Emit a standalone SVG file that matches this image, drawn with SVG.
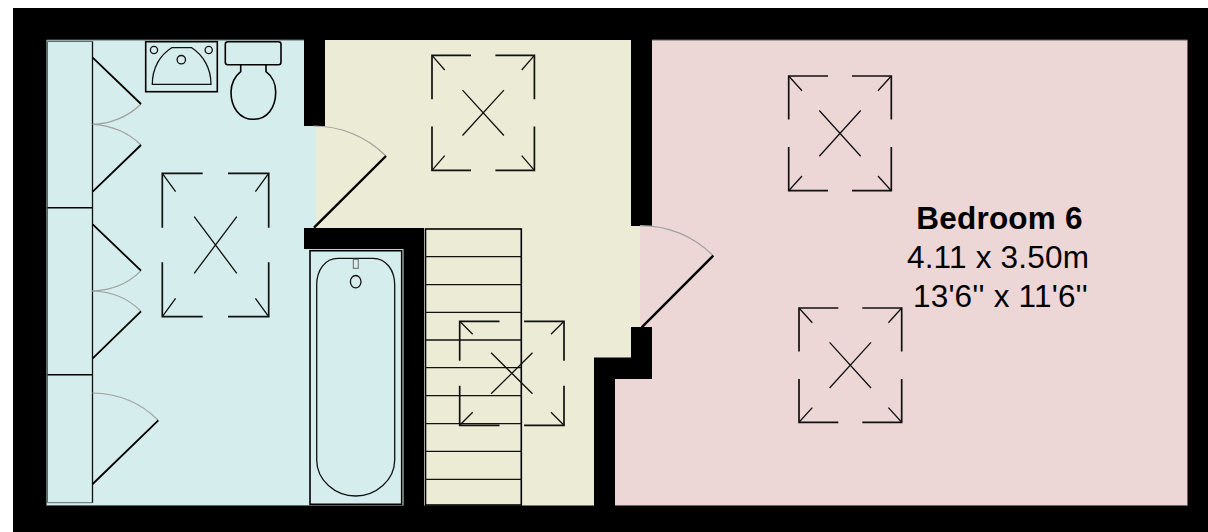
<svg xmlns="http://www.w3.org/2000/svg" width="1208" height="532" viewBox="0 0 1208 532">
<defs><style>
.fix{fill:none;stroke:#111;stroke-width:1.3}
.thick{fill:none;stroke:#000;stroke-width:1.6}
.arc{fill:none;stroke:#a0a0a0;stroke-width:1.2}
.leaf{fill:none;stroke:#000;stroke-width:2.4}
.leaf2{fill:none;stroke:#000;stroke-width:1.8}
.sky{fill:none;stroke:#111;stroke-width:1.7}
.wall{fill:#000;stroke:none}
.edge{fill:none;stroke:#5a6a6a;stroke-width:1}
text{font-family:"Liberation Sans",Arial,sans-serif;font-size:31.5px;letter-spacing:.2px;fill:#000;text-anchor:middle}
</style></defs>
<rect width="1208" height="532" fill="#fff"/>
<rect class="wall" x="13" y="8" width="1195" height="524"/>
<g id="room-bathroom"><path d="M46.500 40H304V126H316V228H304V249H404V505.500H46.500Z" fill="#d5edec"/><path class="edge" d="M304 40H46.500V505.500H404"/></g>
<g id="room-landing"><path d="M325 40H631V226H640V327H631V357.500H594V505.500H424V228H316V126H325Z" fill="#ecebd5"/></g>
<g id="room-bedroom"><path d="M652 40H1187.500V505.500H615V379H652V327H640V226H652Z" fill="#ecd6d6"/><path class="edge" stroke="#5a5050" d="M652 40H1187.500V505.500H615"/></g>
<g id="walls">
<path class="wall" d="M304 40H325V126H304Z"/>
<path class="wall" d="M304 228H424V506H403.500V249H304Z"/>
<path class="wall" d="M631 40H652V226H631Z"/>
<path class="wall" d="M631 327H652V379H615V506H594V358H631Z"/>
</g>
<g id="wardrobes">
<path class="edge" d="M92.500 41.500H47.500V502.700H92.500"/>
<path class="fix" d="M92.500 41.500V502.700"/>
<path class="thick" d="M47.500 207.700H92.500M47.500 374.700H92.500"/>
</g>
<g id="connectors">
<path class="arc" d="M92.700 124.300C110 124 128 117 141 104"/>
<path class="arc" d="M92.700 124.300C110 125 128 132 141 145"/>
<path class="arc" d="M92.300 291C110 290.500 128 284 141 270.700"/>
<path class="arc" d="M92.300 291C110 291.500 128 298 141 311.300"/>
<path class="arc" d="M92.300 393C118 393.500 141 403 158.300 420.300"/>
<path class="arc" d="M313.300 126C340 126 366 136 386 156"/>
<path class="arc" d="M640 225.700C667 225.700 693 236 713.300 255.700"/>
<path class="leaf2" d="M92.700 57.700L141 104M141 145L92.700 191.700M92.700 224.300L141 270.700M141 311.300L92.700 358.300M158.300 420.300L92.700 484"/>
<path class="leaf" d="M386 156L314 227.700M713.300 255.700L641.700 327.300"/>
</g>
<g id="basin">
<rect class="thick" x="145.700" y="41.700" width="71.600" height="50"/>
<path class="fix" d="M152.300 84.300C152.300 68 160 55 171.700 47.700H191.700C203 55 211 68 211 84.300Z"/>
<circle class="fix" cx="154" cy="50" r="3.600"/><circle class="fix" cx="208.700" cy="50" r="3.600"/><circle class="fix" cx="181.300" cy="59.700" r="4.200"/>
</g>
<g id="toilet">
<rect class="thick" x="225.300" y="41.700" width="55.700" height="23" rx="2.500"/>
<path class="thick" d="M240.700 64.700V71.700C235 76 231 84 231 92C231 108 240 119.300 253.300 119.300C267 119.300 275.700 108 275.700 92C275.700 84 272 76 266 71.700V64.700"/>
</g>
<g id="bath">
<rect class="thick" x="310" y="250.700" width="91.700" height="253.600"/>
<path class="fix" d="M316.700 285C316.700 270 325 258.300 338 258.300H373C386 258.300 394.700 270 394.700 285V460C394.700 480 376 496 355.700 496C335 496 316.700 480 316.700 460Z"/>
<ellipse class="fix" cx="355.700" cy="281.700" rx="5.300" ry="6.200"/>
<rect x="353.300" y="259.300" width="5" height="9" fill="none" stroke="#666" stroke-width="1"/>
</g>
<g id="stairs">
<rect class="thick" x="425.500" y="229" width="95.800" height="276"/>
<path class="fix" d="M425.500 256.700H521.300M425.500 284.700H521.300M425.500 312.300H521.300M425.500 340H521.300M425.500 367.700H521.300M425.500 395.700H521.300M425.500 423.700H521.300M425.500 451.300H521.300M425.500 479.300H521.300"/>
</g>
<g id="skylight-bathroom"><path class="sky" d="M202.700 173.300H162.300V227.700M228 173.300H268.700V227.700M202.700 316.700H162.300V262.300M228 316.700H268.700V262.300"/><path class="fix" d="M162.300 173.300L175.600 191.600M268.700 173.300L255.400 191.600M162.300 316.700L175.600 298.400M268.700 316.700L255.400 298.400M194.200 216.700L236.800 273.300M236.800 216.700L194.200 273.300"/></g>
<g id="skylight-landing"><path class="sky" d="M471 55.300H432V99.300M495.400 55.300H534.400V99.300M471 170.300H432V126.500M495.400 170.300H534.400V126.500"/><path class="fix" d="M432 55.300L444.700 70M534.400 55.300L521.700 70M432 170.300L444.700 155.600M534.400 170.300L521.700 155.600M462.500 90.100L503.900 135.500M503.900 90.100L462.500 135.500"/></g>
<g id="skylight-stairs"><path class="sky" d="M499.500 321.300H459.700V360.800M524.100 321.300H564V360.800M499.500 425.300H459.700V385.800M524.100 425.300H564V385.800"/><path class="fix" d="M459.700 321.300L472.700 334.300M564 321.300L551 334.300M459.700 425.300L472.700 412.300M564 425.300L551 412.300M491.100 352.800L532.500 393.800M532.500 352.800L491.100 393.800"/></g>
<g id="skylight-bedroom-1"><path class="sky" d="M828 76H788.700V119.500M852 76H891.300V119.500M828 190.700H788.700V147.100M852 190.700H891.300V147.100"/><path class="fix" d="M788.700 76L802 90.700M891.300 76L878 90.700M788.700 190.700L802 176M891.300 190.700L878 176M819.300 110.500L860.700 156.200M860.700 110.500L819.300 156.200"/></g>
<g id="skylight-bedroom-2"><path class="sky" d="M838.300 308H799V351.400M862.300 308H901.700V351.400M838.300 422.300H799V379M862.300 422.300H901.700V379"/><path class="fix" d="M799 308L812.300 322.700M901.700 308L888.400 322.700M799 422.300L812.300 407.600M901.700 422.300L888.400 407.600M829.600 342.400L871 388M871 342.400L829.600 388"/></g>
<g id="label-bedroom">
<text x="999.500" y="229" font-weight="700">Bedroom 6</text>
<text x="998" y="268">4.11 x 3.50m</text>
<text x="1000.500" y="306.500">13'6'' x 11'6''</text>
</g>
</svg>
